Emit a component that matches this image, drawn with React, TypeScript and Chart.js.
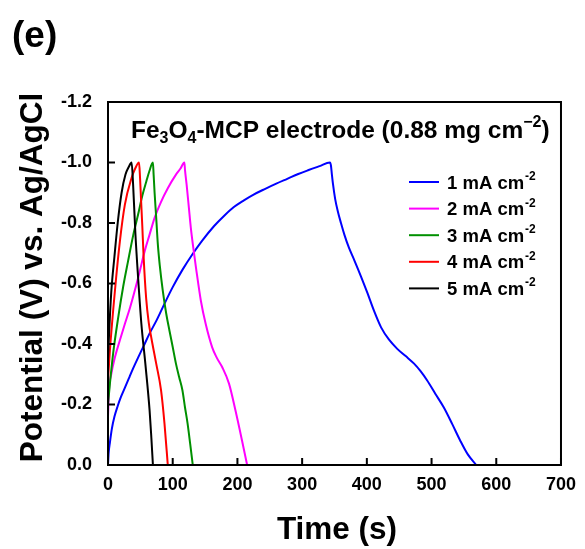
import React, { useEffect, useRef } from "react";
import { Chart, registerables } from "chart.js";
Chart.register(...registerables);

// Time (s) and potential (V vs. Ag/AgCl) for each current density
const t1 = [0, 1, 3, 6, 10, 15, 20, 26, 33, 39, 46.5, 55, 64.3, 75, 87, 100, 115, 130, 145, 164, 180, 194, 210, 225, 243, 260, 277, 294, 310, 327, 343,
  344.5, 346, 347.6, 351, 355, 360, 365.5, 372, 381, 391, 401, 411, 422, 434, 447, 460, 473, 483, 493, 506, 519, 532, 544, 556, 569];
const v1 = [0, -0.04, -0.075, -0.12, -0.16, -0.195, -0.225, -0.255, -0.29, -0.32, -0.355, -0.393, -0.435, -0.478, -0.532, -0.588, -0.645, -0.695, -0.74, -0.79, -0.825, -0.852, -0.875, -0.894, -0.913, -0.93, -0.946, -0.962, -0.975, -0.988, -1.0,
  -0.99, -0.96, -0.93, -0.88, -0.84, -0.80, -0.76, -0.72, -0.675, -0.623, -0.568, -0.51, -0.455, -0.415, -0.384, -0.36, -0.335, -0.31, -0.28, -0.235, -0.19, -0.135, -0.082, -0.035, 0];

const t2 = [0, 1.5, 5, 10.7, 18, 26, 34, 41.3, 49, 56.7, 64, 72, 82, 92.4, 105, 112, 118,
  119, 121.5, 125, 128, 132, 136, 143.5, 151, 161, 168, 176.6, 187, 197, 207, 215];
const v2 = [-0.16, -0.247, -0.3, -0.356, -0.41, -0.466, -0.52, -0.576, -0.64, -0.707, -0.76, -0.817, -0.87, -0.915, -0.96, -0.98, -1.0,
  -0.975, -0.927, -0.85, -0.784, -0.715, -0.652, -0.543, -0.466, -0.389, -0.355, -0.323, -0.269, -0.18, -0.082, 0];

const t3 = [0, 3, 8, 15.8, 23.5, 31, 39, 46.5, 53, 59.3, 64, 69.4,
  70.5, 72, 74.5, 77, 80, 84.7, 90, 95, 100, 105, 110, 115, 119, 123, 127, 131];
const v3 = [-0.2, -0.27, -0.37, -0.488, -0.59, -0.674, -0.76, -0.828, -0.89, -0.938, -0.972, -1.0,
  -0.96, -0.9, -0.817, -0.73, -0.66, -0.576, -0.5, -0.444, -0.39, -0.335, -0.29, -0.247, -0.19, -0.137, -0.07, 0];

const t4 = [0, 3, 10.7, 18.4, 26, 36.3, 42, 48,
  49.5, 51, 53, 55, 59, 63, 67, 74.5, 82, 87.3, 92.4];
const v4 = [-0.28, -0.38, -0.576, -0.74, -0.86, -0.948, -0.98, -1.0,
  -0.95, -0.88, -0.79, -0.69, -0.55, -0.47, -0.42, -0.335, -0.247, -0.137, 0];

const t5 = [0, 2, 5, 10, 15, 21, 27, 32, 36.5,
  38.8, 42.4, 46.5, 51.6, 57.7, 64.3, 67, 69.4];
const v5 = [-0.35, -0.45, -0.57, -0.69, -0.8, -0.9, -0.96, -0.985, -1.0,
  -0.927, -0.762, -0.62, -0.466, -0.335, -0.18, -0.09, 0];

const seriesLabels = ["1 mA cm", "2 mA cm", "3 mA cm", "4 mA cm", "5 mA cm"];
const seriesColors = ["#0000ff", "#ff00ff", "#009000", "#ff0000", "#000000"];
const seriesTimes = [t1, t2, t3, t4, t5];
const seriesVolts = [v1, v2, v3, v4, v5];

const FONT = "'Liberation Sans', Arial, Helvetica, sans-serif";

const decorPlugin = {
  id: "decor",
  afterDraw(chart: any) {
    const ctx = chart.ctx as CanvasRenderingContext2D;
    const ca = chart.chartArea;
    const xs = chart.scales.x;
    const ys = chart.scales.y;
    ctx.save();
    // frame
    ctx.strokeStyle = "#000";
    ctx.lineWidth = 2;
    ctx.strokeRect(ca.left, ca.top, ca.right - ca.left, ca.bottom - ca.top);
    // inward ticks
    ctx.beginPath();
    xs.ticks.forEach((tk: any) => {
      const px = xs.getPixelForValue(tk.value);
      ctx.moveTo(px, ca.bottom);
      ctx.lineTo(px, ca.bottom - 7);
    });
    ys.ticks.forEach((tk: any) => {
      const py = ys.getPixelForValue(tk.value);
      ctx.moveTo(ca.left, py);
      ctx.lineTo(ca.left + 7, py);
    });
    ctx.stroke();

    ctx.fillStyle = "#000";
    // panel label
    ctx.font = `bold 37px ${FONT}`;
    ctx.textAlign = "left";
    ctx.textBaseline = "alphabetic";
    ctx.fillText("(e)", 12, 47);

    // annotation with sub/superscripts
    const drawSegs = (segs: [string, string][], x: number, y: number, size: number) => {
      let cx = x;
      segs.forEach(([txt, kind]) => {
        const s = kind === "n" ? size : Math.round(size * 0.65);
        const dy = kind === "sub" ? size * 0.22 : kind === "sup" ? -size * 0.45 : 0;
        ctx.font = `bold ${s}px ${FONT}`;
        ctx.fillText(txt, cx, y + dy);
        cx += ctx.measureText(txt).width;
      });
    };
    drawSegs(
      [["Fe", "n"], ["3", "sub"], ["O", "n"], ["4", "sub"], ["-MCP electrode (0.88 mg cm", "n"], ["\u22122", "sup"], [")", "n"]],
      131, 138, 24.5
    );

    // legend
    seriesLabels.forEach((lab, i) => {
      const cy = 182 + i * 26.6;
      ctx.strokeStyle = seriesColors[i];
      ctx.lineWidth = 2;
      ctx.beginPath();
      ctx.moveTo(409, cy);
      ctx.lineTo(439, cy);
      ctx.stroke();
      ctx.fillStyle = "#000";
      ctx.font = `bold 18.5px ${FONT}`;
      ctx.fillText(lab, 447, cy + 6.5);
      const w = ctx.measureText(lab).width;
      ctx.font = `bold 12px ${FONT}`;
      ctx.fillText("-2", 447 + w + 1, cy - 2);
    });

    // axis titles
    ctx.fillStyle = "#000";
    ctx.font = `bold 31.5px ${FONT}`;
    ctx.textAlign = "center";
    ctx.fillText("Time (s)", 337, 539);
    ctx.save();
    ctx.translate(42, 277.5);
    ctx.rotate(-Math.PI / 2);
    ctx.fillText("Potential (V) vs. Ag/AgCl", 0, 0);
    ctx.restore();
    ctx.restore();
  },
};

export default function App() {
  const ref = useRef<HTMLCanvasElement | null>(null);
  useEffect(() => {
    if (!ref.current) return;
    const datasets = seriesLabels.map((lab, i) => ({
      label: lab + "-2",
      data: seriesTimes[i].map((t, j) => ({ x: t, y: seriesVolts[i][j] })),
      borderColor: seriesColors[i],
      backgroundColor: seriesColors[i],
      borderWidth: 2,
      pointRadius: 0,
      showLine: true,
      cubicInterpolationMode: "monotone" as const,
      fill: false,
    }));
    const chart = new Chart(ref.current, {
      type: "scatter",
      data: { datasets: datasets.reverse() as any },
      options: {
        animation: false,
        responsive: false,
        devicePixelRatio: 1,
        layout: { padding: { top: 102, right: 19, left: 0, bottom: 0 } },
        plugins: { legend: { display: false }, tooltip: { enabled: false }, title: { display: false } },
        scales: {
          x: {
            type: "linear",
            min: 0,
            max: 700,
            ticks: {
              stepSize: 100,
              color: "#000",
              padding: 9,
              maxRotation: 0,
              font: { family: FONT, size: 18, weight: "bold" },
            },
            grid: { display: false, drawTicks: false },
            border: { display: true, color: "#000", width: 2 },
            afterFit: (s: any) => { s.height = 84; },
          },
          y: {
            type: "linear",
            min: -1.2,
            max: 0,
            reverse: true,
            ticks: {
              stepSize: 0.2,
              color: "#000",
              padding: 16,
              font: { family: FONT, size: 18, weight: "bold" },
              callback: (v: any) => Number(v).toFixed(1),
            },
            grid: { display: false, drawTicks: false },
            border: { display: true, color: "#000", width: 2 },
            afterFit: (s: any) => { s.width = 108; },
          },
        },
      },
      plugins: [decorPlugin],
    });
    return () => chart.destroy();
  }, []);
  return (
    <div style={{ position: "fixed", left: 0, top: 0, width: 585, height: 549, background: "#fff" }}>
      <canvas ref={ref} width={585} height={549} />
    </div>
  );
}
